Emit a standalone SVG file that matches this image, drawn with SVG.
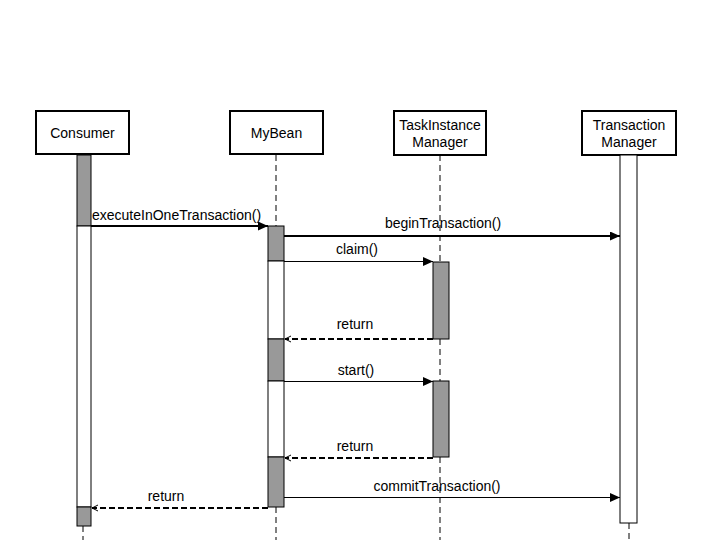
<svg xmlns="http://www.w3.org/2000/svg" width="720" height="540" viewBox="0 0 720 540">
<defs>
<style>
text{font-family:"Liberation Sans",Arial,sans-serif;font-size:14px;fill:#000}
.box{fill:#fff;stroke:#000;stroke-width:2}
.life{stroke:#000;stroke-width:1;stroke-dasharray:6 4;fill:none}
.act{fill:#999;stroke:#000;stroke-width:1}
.actw{fill:#fff;stroke:#000;stroke-width:1}
.msg{stroke:#000;fill:none}
.ret{stroke:#000;fill:none;stroke-dasharray:6 3}
</style>
<marker id="fa" markerWidth="11" markerHeight="9" refX="10" refY="4.5" orient="auto" markerUnits="userSpaceOnUse">
<path d="M0,0 L10,4.5 L0,9 Z" fill="#000"/>
</marker>
<marker id="oa" markerWidth="7" markerHeight="8" refX="6" refY="4" orient="auto" markerUnits="userSpaceOnUse">
<path d="M0,1 L6,4 L0,7" fill="none" stroke="#000" stroke-width="1"/>
</marker>
</defs>
<rect width="720" height="540" fill="#fff"/>
<g id="lifelines">
<line class="life" x1="83" y1="526" x2="83" y2="540"/>
<line class="life" x1="276" y1="155" x2="276" y2="226"/>
<line class="life" x1="276" y1="507" x2="276" y2="540"/>
<line class="life" x1="440" y1="155" x2="440" y2="262"/>
<line class="life" x1="440" y1="339" x2="440" y2="381"/>
<line class="life" x1="440" y1="457" x2="440" y2="540"/>
<line class="life" x1="629" y1="523" x2="629" y2="540"/>
</g>
<g id="consumer">
<rect class="box" x="36" y="111" width="93" height="43"/>
<text x="82.5" y="138" text-anchor="middle">Consumer</text>
<rect class="act" x="77" y="155" width="14" height="71"/>
<rect class="actw" x="77" y="226" width="14" height="281"/>
<rect class="act" x="77" y="507" width="14" height="19"/>
</g>
<g id="mybean">
<rect class="box" x="230" y="111" width="93" height="43"/>
<text x="276.5" y="138" text-anchor="middle">MyBean</text>
<rect class="act" x="268" y="226" width="16" height="35"/>
<rect class="actw" x="268" y="261" width="16" height="78"/>
<rect class="act" x="268" y="339" width="16" height="42"/>
<rect class="actw" x="268" y="381" width="16" height="76"/>
<rect class="act" x="268" y="457" width="16" height="50"/>
</g>
<g id="taskinstancemanager">
<rect class="box" x="394" y="111" width="92" height="44"/>
<text x="440" y="130" text-anchor="middle">TaskInstance</text>
<text x="440" y="147" text-anchor="middle">Manager</text>
<rect class="act" x="433" y="262" width="16" height="77"/>
<rect class="act" x="433" y="381" width="16" height="76"/>
</g>
<g id="transactionmanager">
<rect class="box" x="582" y="111" width="94" height="44"/>
<text x="629" y="130" text-anchor="middle">Transaction</text>
<text x="629" y="147" text-anchor="middle">Manager</text>
<rect class="actw" x="620" y="155" width="17" height="368"/>
</g>
<g id="connectors">
<line class="msg" stroke-width="2" x1="91" y1="226" x2="268" y2="226" marker-end="url(#fa)"/>
<text x="92" y="220">executeInOneTransaction()</text>
<line class="msg" stroke-width="2" x1="284" y1="236" x2="620" y2="236" marker-end="url(#fa)"/>
<text x="443" y="228" text-anchor="middle">beginTransaction()</text>
<line class="msg" stroke-width="1" x1="284" y1="261.5" x2="433" y2="261.5" marker-end="url(#fa)"/>
<text x="357" y="254" text-anchor="middle">claim()</text>
<line class="ret" stroke-width="2" x1="433" y1="339" x2="285" y2="339" marker-end="url(#oa)"/>
<text x="355" y="329" text-anchor="middle">return</text>
<line class="msg" stroke-width="1" x1="284" y1="381.5" x2="433" y2="381.5" marker-end="url(#fa)"/>
<text x="356" y="375" text-anchor="middle">start()</text>
<line class="ret" stroke-width="2" x1="433" y1="458" x2="285" y2="458" marker-end="url(#oa)"/>
<text x="355" y="451" text-anchor="middle">return</text>
<line class="msg" stroke-width="1" x1="284" y1="497.5" x2="620" y2="497.5" marker-end="url(#fa)"/>
<text x="437" y="491" text-anchor="middle">commitTransaction()</text>
<line class="ret" stroke-width="2" x1="268" y1="508" x2="92" y2="508" marker-end="url(#oa)"/>
<text x="166" y="501" text-anchor="middle">return</text>
</g>
</svg>
